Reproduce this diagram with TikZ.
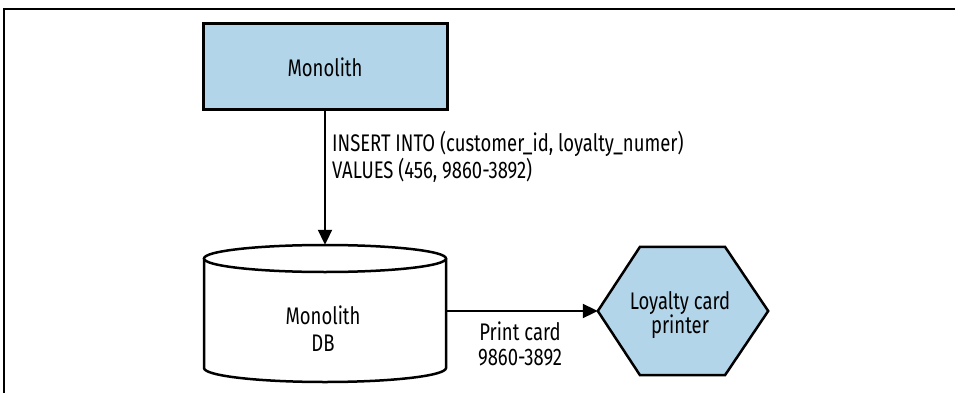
\documentclass[tikz,border=0pt]{standalone}
\usepackage{fontspec}
\setmainfont{Fira Sans}[FakeStretch=0.77]
\usetikzlibrary{arrows.meta,calc}
\definecolor{boxblue}{RGB}{179,213,234}
\tikzset{
  frameline/.style={line width=2pt, black},
  boxnode/.style={draw, line width=3pt, fill=boxblue, minimum width=244pt, minimum height=86pt, inner sep=0pt},
  shapeline/.style={line width=2.5pt, black},
  arr/.style={line width=2pt, -{Triangle[length=15pt,width=14pt]}},
  txt/.style={inner sep=0pt, font=\fontsize{24}{21}\selectfont},
  holder/.style={inner sep=0pt, draw=none}
}
\begin{document}
\begin{tikzpicture}[x=1pt,y=-1pt]
\useasboundingbox (0,0) rectangle (955,393);
\fill[white] (0,0) rectangle (955,393);
% frame
\draw[frameline] (3.5,394) -- (3.5,9) -- (956,9);
% Monolith box
\node[boxnode] (mono) at (325,67) {};
\node[txt] (monotxt) at (325,67) {Monolith};
% DB cylinder
\node[holder, minimum width=242pt, minimum height=137pt] (db) at (325,313.5) {};
\draw[shapeline, fill=white] (204,258.5) -- (204,368) arc[start angle=180, end angle=360, x radius=121pt, y radius=14pt] -- (446,258.5);
\draw[shapeline, fill=white] (325,258.5) ellipse [x radius=121pt, y radius=13.5pt];
\node[txt, align=center, font=\fontsize{24}{27}\selectfont] (dbtxt) at (323,328.5) {Monolith\\DB};
% printer hexagon
\node[holder, minimum width=170pt, minimum height=128pt] (printer) at (683,311) {};
\draw[shapeline, fill=boxblue] (printer.west) -- ($(printer.north)+(-43,0)$) -- ($(printer.north)+(42,0)$) -- (printer.east) -- ($(printer.south)+(42,0)$) -- ($(printer.south)+(-43,0)$) -- cycle;
\node[txt, align=center, font=\fontsize{24}{24}\selectfont] (prtxt) at (680,315) {Loyalty card\\printer};
% connectors
\draw[arr] (mono.south) -- (db.north);
\node[txt, align=left, anchor=west] (ins) at (332,157) {INSERT INTO (customer\_id, loyalty\_numer)\\VALUES (456, 9860-3892)};
\draw[arr] (db.east |- printer.west) -- (printer.west);
\node[txt, align=center, font=\fontsize{24}{25}\selectfont] (pc) at (520,343.5) {Print card\\9860-3892};
\end{tikzpicture}
\end{document}
